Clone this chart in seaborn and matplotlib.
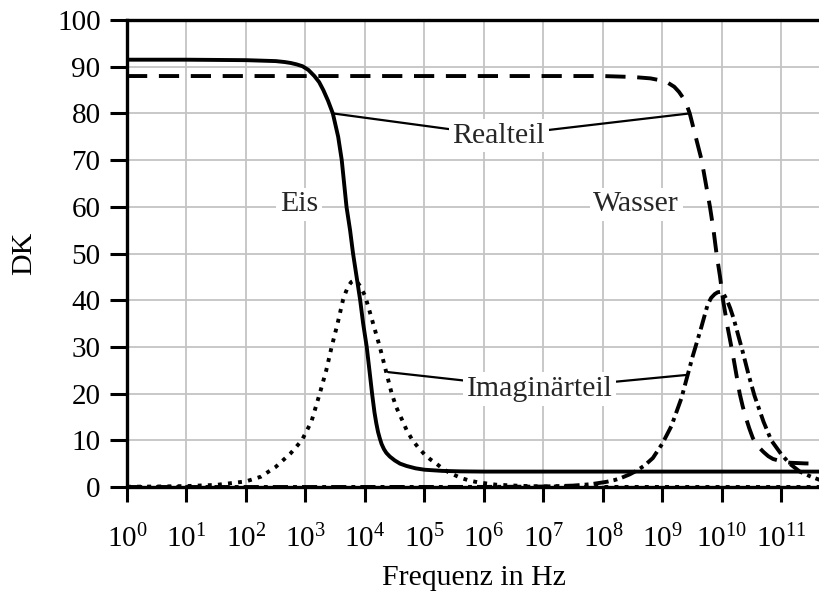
import numpy as np
import pandas as pd
import matplotlib
matplotlib.use("Agg")
import matplotlib.pyplot as plt
import seaborn as sns

# ---- data; x given as decade exponent of frequency in Hz ----
ice_real_exp = [0, 1, 2, 2.5, 2.65, 2.75, 2.85, 2.95, 3.05, 3.15, 3.23, 3.3, 3.38, 3.46, 3.55,
                3.61, 3.69, 3.75, 3.80, 3.86, 3.92, 3.97, 4.03, 4.08, 4.12, 4.16, 4.19, 4.22,
                4.25, 4.28, 4.32, 4.36, 4.42, 4.5, 4.59, 4.7, 4.85, 5.0, 5.3, 5.6, 6.0, 8.0,
                10.0, 11.65]
ice_real_val = [91.5, 91.5, 91.4, 91.2, 91.0, 90.8, 90.5, 90.1, 89.3, 88.0, 86.7, 85.0, 82.7, 80.0, 75.0,
                70.0, 60.0, 55.0, 50.0, 45.0, 40.0, 35.0, 30.0, 24.5, 20.0, 16.0, 13.7, 11.8,
                10.4, 9.2, 8.1, 7.3, 6.5, 5.7, 5.0, 4.5, 4.0, 3.7, 3.45, 3.35, 3.3, 3.3,
                3.3, 3.3]

ice_imag_exp = [0, 0.5, 1.0, 1.5, 2.0, 2.25, 2.5, 2.75, 2.94, 3.1, 3.24, 3.35, 3.44, 3.54, 3.63,
                3.68, 3.72, 3.77, 3.82, 3.87, 3.92, 3.96, 4.0, 4.07, 4.16, 4.25, 4.35, 4.45,
                4.53, 4.62, 4.7, 4.8, 4.9, 5.0, 5.1, 5.2, 5.3, 5.4, 5.5, 5.6, 5.75, 5.9, 6.2,
                6.6, 7.0, 7.5, 8.0, 9.0, 10.0, 11.65]
ice_imag_val = [0.05, 0.1, 0.2, 0.45, 1.2, 2.2, 4.3, 7.2, 10.0, 14.0, 20.0, 25.0, 30.0, 35.0, 40.0,
                41.8, 43.0, 43.9, 44.2, 43.9, 43.0, 42.0, 41.0, 38.0, 34.0, 30.0, 25.0, 20.0,
                17.0, 14.5, 12.2, 10.0, 8.4, 7.0, 5.9, 5.0, 4.0, 3.2, 2.6, 2.0, 1.4, 1.0, 0.5,
                0.25, 0.12, 0.05, 0.02, 0.01, 0.0, 0.0]

water_real_exp = [0, 4, 8, 8.5, 8.8, 9.0, 9.1, 9.2, 9.28, 9.35, 9.41, 9.46, 9.56, 9.66, 9.73,
                  9.80, 9.86, 9.91, 9.97, 10.02, 10.1, 10.19, 10.3, 10.35, 10.4, 10.46, 10.52,
                  10.6, 10.7, 10.78, 10.86, 11.0, 11.14, 11.4, 11.65]
water_real_val = [88.0, 88.0, 88.0, 87.8, 87.5, 87.0, 86.5, 85.7, 84.6, 83.3, 81.8, 80.0, 75.0, 70.0, 65.0,
                  60.0, 55.0, 50.0, 45.0, 40.0, 34.0, 28.0, 20.0, 17.3, 15.0, 12.6, 10.5,
                  8.8, 7.5, 6.6, 6.0, 5.5, 5.2, 5.05, 5.0]

water_imag_exp = [0, 3, 6, 6.5, 7.0, 7.5, 7.8, 8.06, 8.2, 8.3, 8.45, 8.57, 8.7, 8.84, 9.0, 9.15,
                  9.32, 9.51, 9.65, 9.76, 9.82, 9.88, 9.93, 9.98, 10.03, 10.08, 10.14, 10.2,
                  10.35, 10.45, 10.55, 10.7, 10.83, 11.0, 11.14, 11.31, 11.5, 11.65]
water_imag_val = [0.0, 0.0, 0.02, 0.05, 0.1, 0.3, 0.6, 1.1, 1.5, 1.9, 2.7, 3.5, 4.6, 6.2, 9.3, 13.0,
                  19.0, 28.0, 34.0, 39.0, 40.5, 41.3, 41.7, 41.8, 41.3, 40.2, 38.3, 36.0,
                  29.0, 24.0, 19.5, 14.0, 10.0, 7.0, 5.0, 3.3, 2.2, 1.5]

x_tick_exp = list(range(0, 12))
y_ticks = [0, 10, 20, 30, 40, 50, 60, 70, 80, 90, 100]

# ---- style ----
sns.set_theme(style="white")
plt.rcParams["font.family"] = ["Liberation Serif", "DejaVu Serif"]
plt.rcParams["mathtext.fontset"] = "custom"
plt.rcParams["mathtext.rm"] = "Liberation Serif"
plt.rcParams["mathtext.it"] = "Liberation Serif:italic"
plt.rcParams["mathtext.bf"] = "Liberation Serif:bold"

fig = plt.figure(figsize=(8.2, 5.96), dpi=100)
ax = fig.add_axes([127 / 820, 1 - 487 / 596, 1 - 127 / 820, (487 - 20) / 596])

LW = 2.8
series = [
    (ice_real_exp, ice_real_val, "-"),
    (water_real_exp, water_real_val, (0, (5.2, 3.0))),
    (ice_imag_exp, ice_imag_val, (0, (1.0, 1.6))),
    (water_imag_exp, water_imag_val, (0, (3.9, 1.3, 1.0, 1.3))),
]
for ex, val, ls in series:
    df = pd.DataFrame({"f": np.power(10.0, ex), "v": val})
    sns.lineplot(data=df, x="f", y="v", ax=ax, color="black", linewidth=LW,
                 linestyle=ls, errorbar=None, sort=False, zorder=3)

ax.set_xscale("log")
ax.set_xlim(1, 10 ** 11.65)
ax.set_ylim(0, 100)
ax.set_xticks([10.0 ** e for e in x_tick_exp])
ax.set_xticklabels([r"$10^{%d}$" % e for e in x_tick_exp])
ax.xaxis.set_minor_locator(matplotlib.ticker.NullLocator())
ax.set_yticks(y_ticks)
ax.set_yticklabels([str(v) for v in y_ticks])

ax.grid(True, which="major", color="#c4c4c4", linewidth=1.3, zorder=0)
ax.set_axisbelow(True)

for s in ["left", "bottom", "top"]:
    ax.spines[s].set_visible(True)
    ax.spines[s].set_color("black")
    ax.spines[s].set_linewidth(2.4)
ax.spines["right"].set_visible(False)

ax.tick_params(axis="y", which="major", direction="out", length=12, width=2.2,
               color="black", labelsize=21, pad=7, left=True, labelcolor="black")
ax.tick_params(axis="x", which="major", direction="out", length=11, width=2.2,
               color="black", labelsize=21, pad=16, bottom=True, labelcolor="black")

ax.set_xlabel("Frequenz in Hz", fontsize=21.5, color="black")
ax.set_ylabel("DK", fontsize=21.5, color="black")
ax.xaxis.set_label_coords(0.5, -0.168)
ax.yaxis.set_label_coords(-0.13, 0.5)

bbox = dict(boxstyle="square,pad=0.12", fc="white", ec="none")
arrow = dict(arrowstyle="-", color="black", lw=1.6, shrinkA=0, shrinkB=0)

def label(txt, ex, y):
    ax.text(10 ** ex, y, txt, fontsize=21.5, ha="center", va="center", bbox=bbox, zorder=2)

def pointer(txt, ex_text, y_text, targets):
    for ex, y in targets:
        ax.annotate(txt, xy=(10 ** ex, y), xytext=(10 ** ex_text, y_text),
                    fontsize=21.5, ha="center", va="center", bbox=bbox,
                    arrowprops=arrow, zorder=4)

pointer("Realteil", 6.25, 75.2, [(3.46, 80.0), (9.46, 80.0)])
pointer("Imaginärteil", 6.94, 21.0, [(4.39, 24.6), (9.41, 24.0)])
label("Eis", 2.89, 60.5)
label("Wasser", 8.56, 60.5)

fig.savefig("out.png", dpi=100)
